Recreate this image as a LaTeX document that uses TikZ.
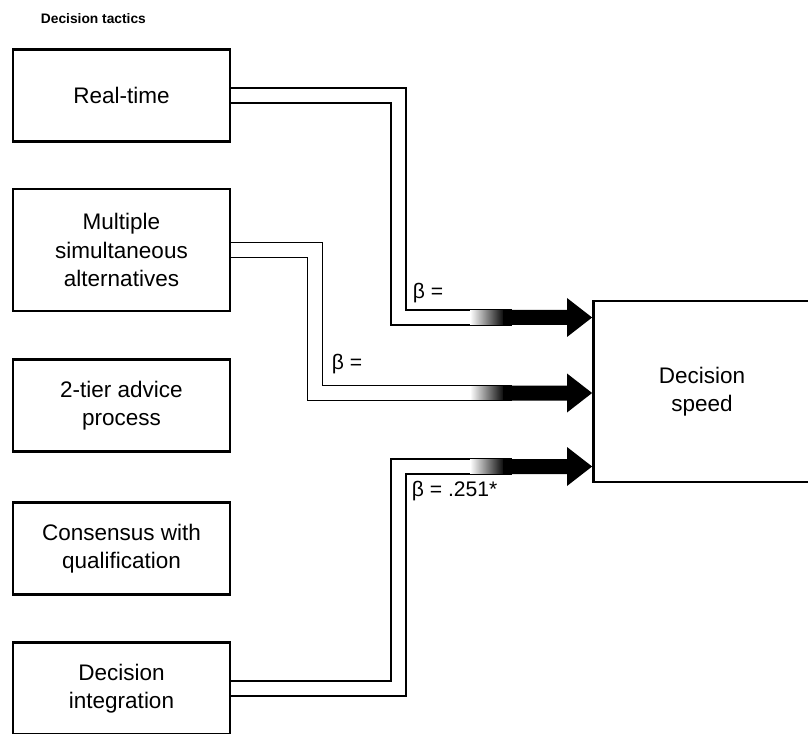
\documentclass[tikz,border=0pt]{standalone}
\usepackage{fontspec}
\setmainfont{Liberation Sans}
\usetikzlibrary{backgrounds}

\begin{document}
\begin{tikzpicture}[x=0.025cm,y=-0.025cm]
   \useasboundingbox (0,0) rectangle (808,734);
   \tikzstyle{tactic}=[draw=black, line width=1.8pt, minimum width=5.43cm, minimum height=2.3cm, align=center, font=\fontsize{16}{20}\selectfont]
   \tikzstyle{pipe}=[draw=black, line width=1.1pt, double=white, double distance=9.6pt]
   \tikzstyle{coef}=[anchor=west, font=\fontsize{15}{20}\selectfont]
   \node[anchor=west, font=\bfseries\fontsize{9.8}{12}\selectfont] (title) at (36,19) {Decision tactics};
   \node[tactic] (realtime) at (121.5,95.5) {Real-time};
   \node[tactic, minimum height=3.05cm] (multi) at (121.5,250) {Multiple\\simultaneous\\alternatives};
   \node[tactic] (twotier) at (121.5,405.5) {2-tier advice\\process};
   \node[tactic] (consensus) at (121.5,548.5) {Consensus with\\qualification};
   \node[tactic] (integ) at (121.5,688.5) {Decision\\integration};
   \node[tactic, minimum height=4.52cm] (speed) at (702,391.5) {Decision\\speed};
   \foreach \src/\x/\y in {realtime/398.5/317.5, multi/315/393, integ/398.5/466.5} {
       \begin{scope}[on background layer]
           \path[pipe] (\src.east) -| (\x,\y) -- (512,\y);
       \end{scope}
       \shade[left color=white, right color=black] (470,\y-6.7) rectangle (505,\y+6.7);
       \fill (503,\y-7.5) -- (567,\y-7.5) -- (567,\y-19.5) -- (speed.west |- 0,\y)
           -- (567,\y+19.5) -- (567,\y+7.5) -- (503,\y+7.5) -- cycle;
   }
   \node[coef] (beta1) at (408,293) {β =};
   \node[coef] (beta2) at (327,364) {β =};
   \node[coef] (beta3) at (407,491) {β = .251*};
\end{tikzpicture}
\end{document}
